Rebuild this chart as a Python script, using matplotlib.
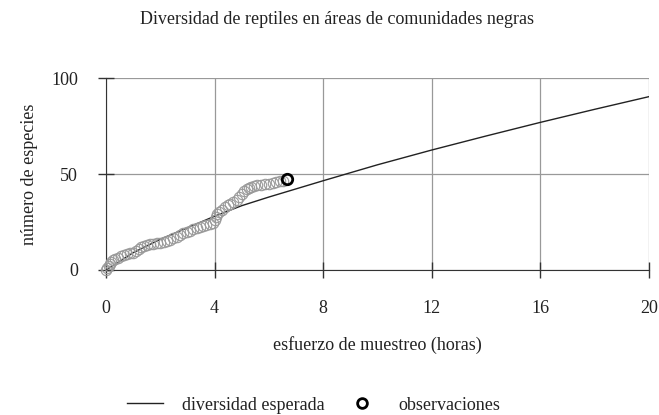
import numpy as np
import matplotlib
matplotlib.use("Agg")
from matplotlib import pyplot as plt
from matplotlib.lines import Line2D

# expected diversity curve (hours, species)
exp_hours = [0, 1, 2, 3, 4, 5, 6, 8, 10, 12, 14, 16, 18, 20]
exp_species = [0, 9, 16, 22, 28, 33.5, 38, 46.5, 54.8, 62.5, 69.8, 76.9, 83.7, 90.3]

# observations: species accumulation against sampling effort
obs_hours = [0.00, 0.05, 0.10, 0.15, 0.20, 0.27, 0.35, 0.45, 0.55, 0.65,
             0.76, 0.88, 1.00, 1.10, 1.20, 1.30, 1.40, 1.50, 1.62, 1.75,
             1.88, 2.00, 2.12, 2.24, 2.36, 2.48, 2.60, 2.72, 2.85, 2.97,
             3.10, 3.22, 3.34, 3.46, 3.58, 3.70, 3.82, 3.95, 4.00, 4.04,
             4.08, 4.18, 4.28, 4.38, 4.48, 4.57, 4.69, 4.81, 4.90, 5.00,
             5.09, 5.18, 5.27, 5.36, 5.45, 5.55, 5.70, 5.85, 6.00, 6.16,
             6.28, 6.40, 6.52, 6.65]
obs_species = [0.0, 1.0, 2.0, 3.0, 4.0, 5.0, 5.8, 6.5, 7.2, 7.8,
               8.4, 8.8, 9.0, 9.8, 10.8, 11.8, 12.5, 13.0, 13.4, 13.8,
               14.1, 14.3, 14.6, 14.9, 15.7, 16.5, 17.4, 18.3, 19.1, 19.8,
               20.5, 21.2, 21.9, 22.6, 23.1, 23.5, 23.9, 24.3, 25.8, 27.5,
               29.3, 30.4, 31.5, 32.6, 33.7, 34.6, 35.6, 36.5, 38.0, 39.5,
               41.0, 42.4, 42.9, 43.4, 43.9, 44.3, 44.5, 44.7, 44.9, 45.1,
               45.6, 46.1, 46.6, 47.2]

x_ticks = [0, 4, 8, 12, 16, 20]
y_ticks = [0, 50, 100]

plt.rcParams['font.family'] = ['Liberation Serif', 'DejaVu Serif']
fs = 13

fig = plt.figure(figsize=(6.59, 4.15), dpi=100)
ax = fig.add_axes([0.1608, 0.3494, 0.824, 0.4626])

ax.plot(exp_hours, exp_species, color='#222222', lw=1.0, zorder=2)
ax.plot(obs_hours[:-1], obs_species[:-1], 'o', ms=7.5, mfc='none',
        mec='#9a9a9a', mew=0.8, zorder=3, clip_on=False)
ax.plot(obs_hours[-1:], obs_species[-1:], 'o', ms=7.5, mfc='none',
        mec='black', mew=2.0, zorder=4, clip_on=False)

ax.set_xlim(0, 20)
ax.set_ylim(0, 100)
ax.set_xticks(x_ticks)
ax.set_yticks(y_ticks)
ax.grid(True, color='#999999', lw=0.9)
ax.set_axisbelow(True)
for s in ['top', 'right']:
    ax.spines[s].set_visible(False)
ax.spines['left'].set_color('#333333')
ax.spines['bottom'].set_color('#333333')
ax.tick_params(direction='inout', length=11.5, width=1, color='#333333',
               labelsize=fs, labelcolor='#222222')
ax.tick_params(axis='x', pad=15.5)
ax.tick_params(axis='y', pad=14.4)

fig.text(337 / 659, 1 - 20 / 415,
         'Diversidad de reptiles en áreas de comunidades negras',
         ha='center', va='center', fontsize=fs, color='#222222')
ax.set_xlabel('esfuerzo de muestreo (horas)', fontsize=fs, color='#222222')
ax.xaxis.label.set_va('center')
ax.xaxis.set_label_coords(0.5, (270 - 345) / 192)
ax.set_ylabel('número de especies', fontsize=fs, color='#222222')
ax.yaxis.label.set_va('center')
ax.yaxis.set_label_coords((30 - 106) / 543, 0.5)

handles = [Line2D([], [], color='#222222', lw=1.0),
           Line2D([], [], marker='o', ls='none', ms=7, mfc='none',
                  mec='black', mew=2.0)]
leg = fig.legend(handles, ['diversidad esperada', 'observaciones'],
                 loc='center left', bbox_to_anchor=(127 / 659, 1 - 405 / 415),
                 ncol=2, frameon=False, fontsize=fs, handlelength=2.0,
                 handletextpad=1.05, columnspacing=1.05, borderpad=0,
                 borderaxespad=0)
for t in leg.get_texts():
    t.set_color('#222222')

fig.savefig('out.png', dpi=100)
